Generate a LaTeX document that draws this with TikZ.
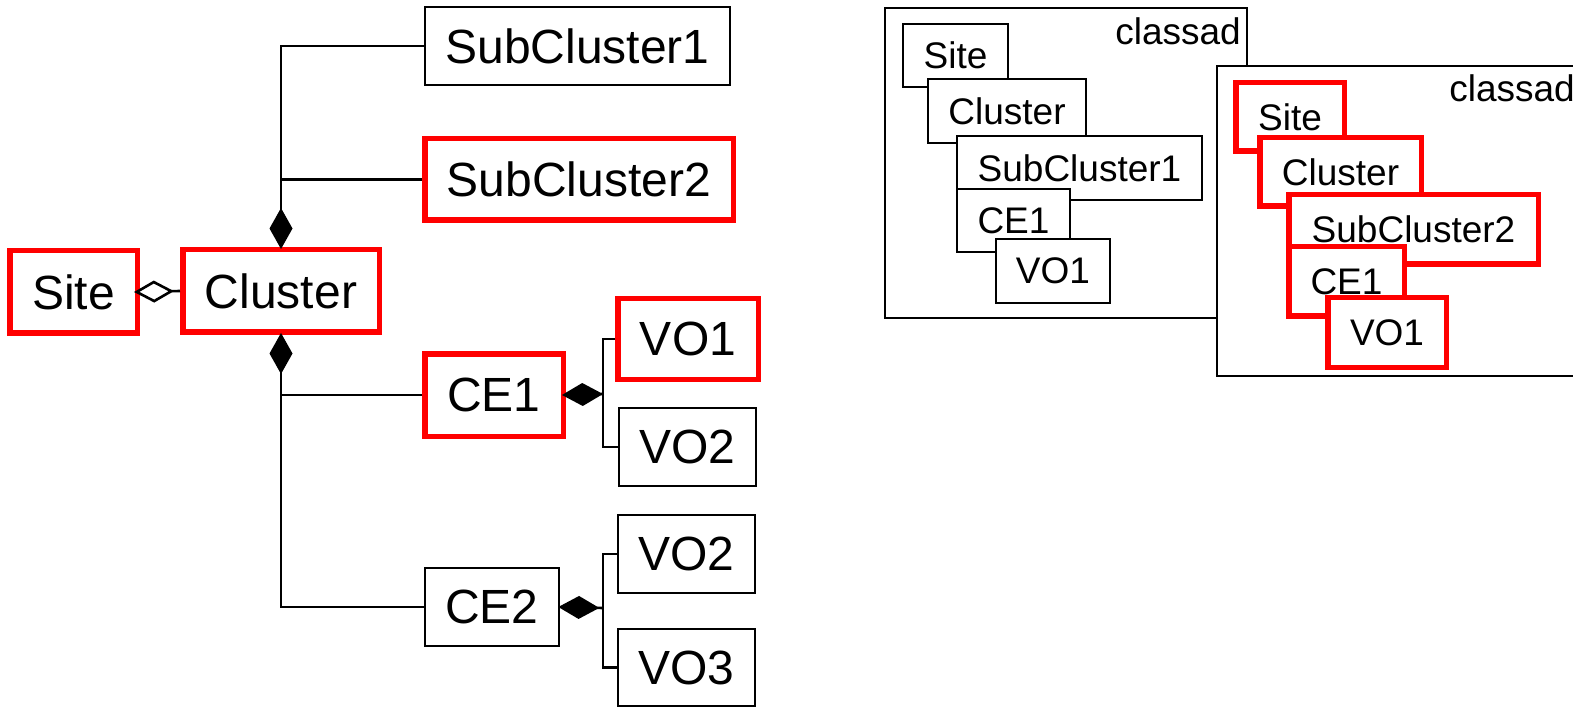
\documentclass[tikz,border=0pt]{standalone}
\usepackage{fontspec}
\setmainfont{Liberation Sans}
\usetikzlibrary{arrows.meta}
\newcommand\bigf{\fontsize{48}{56}\selectfont}
\newcommand\smf{\fontsize{37}{44}\selectfont}
\tikzset{
  box/.style={rectangle, inner sep=0pt, fill=white, anchor=center},
  blk/.style={box, draw=black, line width=2.6pt},
  hot/.style={box, draw=red, line width=5.5pt},
  lg/.style={font=\bigf},
  sm/.style={font=\smf},
  conn/.style={draw=black, line width=2.6pt},
  compo/.style={{Diamond[length=41pt,width=23pt]}-},
  aggro/.style={{Diamond[open,length=40pt,width=22pt]}-},
  lbl/.style={font=\smf, inner sep=0pt, anchor=base east},
}
\begin{document}
\begin{tikzpicture}[x=1pt,y=-1pt]
\useasboundingbox (0,0) rectangle (1573,708);
% ---------- left: class diagram ----------
\node[hot,lg,minimum width=127.5pt,minimum height=82.5pt] (site) at (73.5,292) {Site};
\node[hot,lg,minimum width=196.5pt,minimum height=82.5pt] (cluster) at (281,291) {Cluster};
\node[blk,lg,minimum width=305pt,minimum height=78pt] (sub1) at (577.5,46) {SubCluster1};
\node[hot,lg,minimum width=308.5pt,minimum height=81.5pt] (sub2) at (579,179.5) {SubCluster2};
\node[hot,lg,minimum width=138.5pt,minimum height=82.5pt] (ce1) at (494,395) {CE1};
\node[blk,lg,minimum width=134pt,minimum height=78pt] (ce2) at (492,607) {CE2};
\node[hot,lg,minimum width=140.5pt,minimum height=80.5pt] (vo1) at (688,339) {VO1};
\node[blk,lg,minimum width=137pt,minimum height=78pt] (vo2) at (687.5,447) {VO2};
\node[blk,lg,minimum width=137pt,minimum height=78pt] (vo2b) at (686.5,554) {VO2};
\node[blk,lg,minimum width=137pt,minimum height=77pt] (vo3) at (686.5,667.5) {VO3};

\draw[conn,compo] ([yshift=-2pt]cluster.north) |- (sub1.west);
\draw[conn] (cluster.north |- sub2.west) -- (sub2.west);
\draw[conn,compo] ([yshift=2pt]cluster.south) |- (ce2.west);
\draw[conn] (cluster.south |- ce1.west) -- (ce1.west);
\draw[conn,aggro] ([xshift=-6pt]site.east) -- (cluster.west);
\coordinate (j1) at (603,394);
\draw[conn,compo] ([xshift=-4pt]ce1.east) -- (j1);
\draw[conn] (vo1.west) -| (j1) |- (vo2.west);
\coordinate (j2) at (603,608);
\draw[conn,compo] ([xshift=-2pt]ce2.east) -- (j2);
\draw[conn] (vo2b.west) -| (j2) |- (vo3.west);

% ---------- right: first classad ----------
\node[blk,minimum width=362pt,minimum height=310pt] (ca1) at (1066,163) {};
\node[lbl] (ca1t) at (1241,45) {classad};
\node[blk,sm,minimum width=105pt,minimum height=63pt] (rsite1) at (955.5,55.5) {Site};
\node[blk,sm,minimum width=158pt,minimum height=64pt] (rclus1) at (1007,111) {Cluster};
\node[blk,sm,minimum width=245pt,minimum height=64pt] (rsub1) at (1079.5,168) {SubCluster1};
\node[blk,sm,minimum width=113pt,minimum height=63pt] (rce1) at (1013.5,220.5) {CE1};
\node[blk,sm,minimum width=114pt,minimum height=64pt] (rvo1) at (1053,271) {VO1};

% ---------- right: second classad ----------
\node[blk,minimum width=423pt,minimum height=310pt] (ca2) at (1428.5,221) {};
\node[lbl] (ca2t) at (1575,102) {classad};
\node[hot,sm,minimum width=108.5pt,minimum height=68.5pt] (rsite2) at (1290,117) {Site};
\node[hot,sm,minimum width=161.5pt,minimum height=68.5pt] (rclus2) at (1340.5,172) {Cluster};
\node[hot,sm,minimum width=249.5pt,minimum height=69.5pt] (rsub2) at (1413.5,229.5) {SubCluster2};
\node[hot,sm,minimum width=115.5pt,minimum height=69.5pt] (rce2) at (1346.5,281.5) {CE1};
\node[hot,sm,minimum width=118.5pt,minimum height=69.5pt] (rvo2) at (1387,332.5) {VO1};
\end{tikzpicture}
\end{document}
